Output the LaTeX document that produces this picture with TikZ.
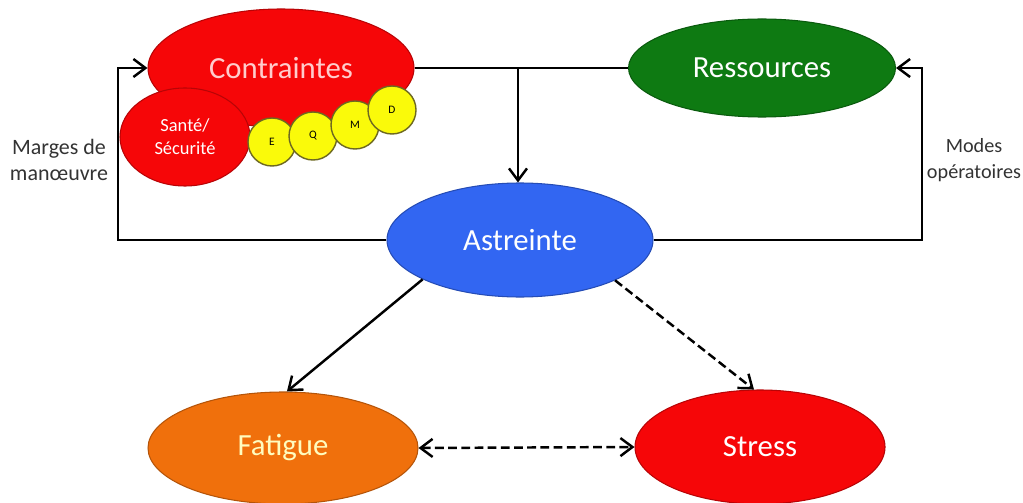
\documentclass[tikz,border=0pt]{standalone}
\usepackage{fontspec}
\setmainfont{Carlito}
\usetikzlibrary{shapes.geometric,arrows.meta}
\definecolor{redC}{RGB}{246,6,8}
\definecolor{greenR}{RGB}{14,122,18}
\definecolor{blueA}{RGB}{50,102,242}
\definecolor{orangeF}{RGB}{240,112,12}
\definecolor{yellowS}{RGB}{250,250,10}
\tikzset{
  blob/.style={ellipse, draw=#1!75!black, line width=.6pt, fill=#1, text=white,
    inner sep=0pt, font=\fontsize{17.5}{20}\selectfont},
  bead/.style={circle, draw=black!30!olive, line width=.8pt, fill=yellowS,
    minimum size=48*0.02cm, inner sep=0pt, font=\fontsize{6.5}{7}\selectfont},
  link/.style={line width=1.4pt, -{Straight Barb[length=2.4mm,width=3.6mm]}},
  dlink/.style={link, dash pattern=on 5pt off 2.5pt}
}
\begin{document}
\begin{tikzpicture}[x=0.02cm, y=-0.02cm]
  \useasboundingbox (0,0) rectangle (1023,503);
  \node[blob=redC, text=red!20, minimum width=266*0.02cm, minimum height=118*0.02cm] (contr) at (281,68) {Contraintes};
  \node[blob=redC, font=\fontsize{10.5}{13}\selectfont, align=center, minimum width=130*0.02cm, minimum height=98*0.02cm] (sante) at (185,137) {Santé/\\Sécurité};
  \node[bead] (E) at (272,142) {E};
  \node[bead] (Q) at (313,136) {Q};
  \node[bead] (M) at (355,125) {M};
  \node[bead] (D) at (392,110) {D};
  \node[blob=greenR, minimum width=267*0.02cm, minimum height=98*0.02cm] (ress) at (762,68) {Ressources};
  \node[blob=blueA, minimum width=266*0.02cm, minimum height=114*0.02cm] (astr) at (520,240) {Astreinte};
  \node[blob=orangeF, text=yellow!25, minimum width=270*0.02cm, minimum height=112*0.02cm] (fat) at (283,448) {Fatigue};
  \node[blob=redC, minimum width=250*0.02cm, minimum height=114*0.02cm] (stress) at (760,447) {Stress};
  \coordinate (top) at (518,68);
  \coordinate (lc) at (118,240);
  \coordinate (rc) at (922,240);
  \draw[line width=1.4pt] (contr.east) -- (ress.west);
  \draw[link] (top) -- (top |- astr.north);
  \draw[link] (astr.west) -- (lc) |- (contr.west);
  \draw[link] (astr.east) -- (rc) |- (ress.east);
  \draw[link] (astr.202) -- (fat.86);
  \draw[dlink] (astr.337) -- (stress.96);
  \draw[dlink, {Straight Barb[length=2.4mm,width=3.6mm]}-{Straight Barb[length=2.4mm,width=3.6mm]}] (fat.east) -- (stress.west);
  \node[align=center, font=\fontsize{12.5}{15}\selectfont, text=black!80] (marges) at (59,160) {Marges de\\manœuvre};
  \node[align=center, font=\fontsize{11.5}{15}\selectfont, text=black!80] (modes) at (974,160) {Modes\\opératoires};
\end{tikzpicture}
\end{document}
